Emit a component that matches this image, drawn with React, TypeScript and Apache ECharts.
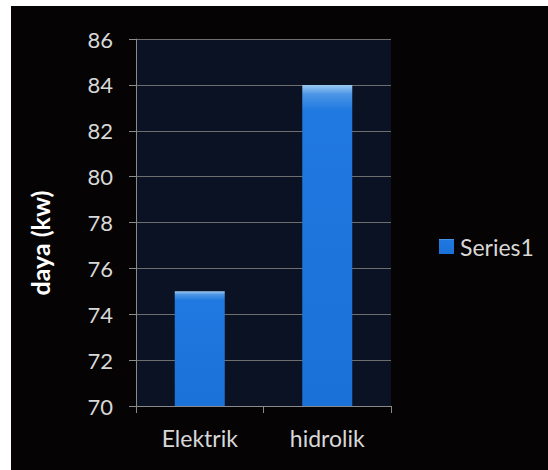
import React, { useEffect, useRef } from "react";
import * as echarts from "echarts";

const categories = ["Elektrik", "hidrolik"];
const seriesName = "Series1";
const values = [75, 84];
const yMin = 70;
const yMax = 86;
const yInterval = 2;
const yTitle = "daya (kw)";

export default function App() {
  const ref = useRef<HTMLDivElement>(null);
  useEffect(() => {
    if (!ref.current) return;
    const chart = echarts.init(ref.current, null, { renderer: "svg" });
    const font = "Lato, 'Open Sans', sans-serif";
    chart.setOption({
      animation: false,
      backgroundColor: "#ffffff",
      graphic: [
        {
          type: "rect",
          shape: { x: 11, y: 6, width: 537, height: 464 },
          style: { fill: "#050304" },
          z: -10,
        },
        {
          type: "text",
          x: 40,
          y: 243,
          rotation: Math.PI / 2,
          style: {
            text: yTitle,
            fill: "#ffffff",
            fontSize: 25,
            fontWeight: "bold",
            fontFamily: font,
            align: "center",
            verticalAlign: "middle",
          },
        },
      ],
      grid: {
        left: 136,
        right: 157,
        top: 39,
        bottom: 64,
        show: true,
        backgroundColor: "#0b1224",
        borderWidth: 0,
      },
      legend: {
        data: [seriesName],
        left: 434,
        top: 230,
        itemWidth: 15,
        itemHeight: 15,
        itemGap: 6,
        icon: "rect",
        textStyle: { color: "#d8d8d8", fontSize: 23, fontFamily: font, padding: [0, 0, 0, 1] },
      },
      xAxis: {
        type: "category",
        data: categories,
        axisLine: { show: true, lineStyle: { color: "#8a8a8a", width: 1 } },
        axisTick: { show: true, alignWithLabel: false, length: 7, lineStyle: { color: "#8a8a8a" } },
        axisLabel: { color: "#d8d8d8", fontSize: 23, fontFamily: font, margin: 20 },
        splitLine: { show: false },
      },
      yAxis: {
        type: "value",
        min: yMin,
        max: yMax,
        interval: yInterval,
        axisLine: { show: true, lineStyle: { color: "#8a8a8a", width: 1 } },
        axisTick: { show: true, length: 7, lineStyle: { color: "#8a8a8a" } },
        axisLabel: { color: "#d8d8d8", fontSize: 22, fontFamily: font, margin: 23 },
        splitLine: { show: true, lineStyle: { color: "#6e6e6e", width: 1 } },
      },
      series: [
        {
          name: seriesName,
          type: "bar",
          data: values,
          barWidth: 50,
          itemStyle: {
            color: new echarts.graphic.LinearGradient(0, 0, 0, 1, [
              { offset: 0, color: "#9cc9f2" },
              { offset: 0.03, color: "#4a95e6" },
              { offset: 0.08, color: "#2079e0" },
              { offset: 1, color: "#1a72d8" },
            ]),
          },
        },
      ],
    });
    return () => chart.dispose();
  }, []);
  return (
    <div
      ref={ref}
      style={{ position: "absolute", left: 0, top: 0, width: 548, height: 470 }}
    />
  );
}
